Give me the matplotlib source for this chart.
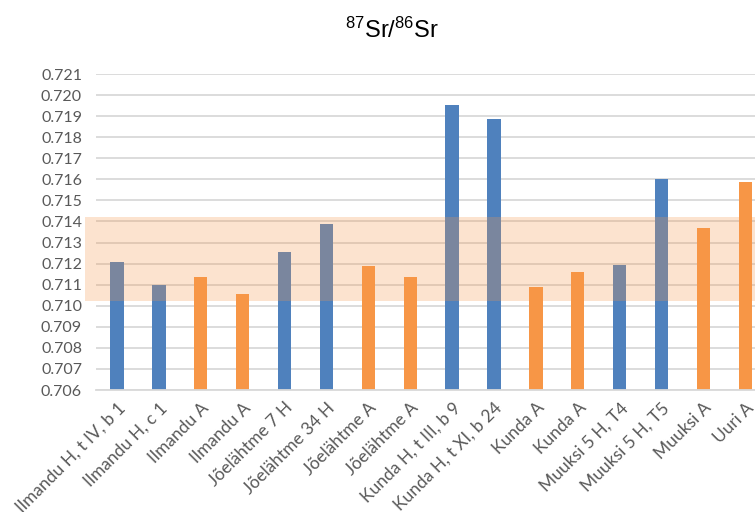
import matplotlib
matplotlib.use("Agg")
import matplotlib.pyplot as plt
from matplotlib.patches import Rectangle

categories = ["Ilmandu H, t IV, b 1", "Ilmandu H, c 1", "Ilmandu A", "Ilmandu A",
              "Jõelähtme 7 H", "Jõelähtme 34 H", "Jõelähtme A", "Jõelähtme A",
              "Kunda H, t III, b 9", "Kunda H, t XI, b 24", "Kunda A", "Kunda A",
              "Muuksi 5 H, T4", "Muuksi 5 H, T5", "Muuksi A", "Uuri A"]
values = [0.71206, 0.71099, 0.71138, 0.71057, 0.71254, 0.71388, 0.71189, 0.71138,
          0.71953, 0.71886, 0.71088, 0.71159, 0.71195, 0.71600, 0.71368, 0.71587]
groups = ["H", "H", "A", "A", "H", "H", "A", "A", "H", "H", "A", "A", "H", "H", "A", "A"]
band_low, band_high = 0.71024, 0.71422
ymin, ymax = 0.706, 0.721
yticks = [0.706 + 0.001 * i for i in range(16)]

blue = "#4F81BD"
orange = "#F79646"
colors = [blue if g == "H" else orange for g in groups]

plt.rcParams['font.family'] = ['Lato', 'DejaVu Sans']
plt.rcParams['mathtext.fontset'] = 'custom'
plt.rcParams['mathtext.rm'] = 'Liberation Sans'
plt.rcParams['mathtext.it'] = 'Liberation Sans'
fig = plt.figure(figsize=(7.55, 5.12), dpi=100)
ax = fig.add_axes([96/755, 1 - 390/512, 1 - 96/755, (390 - 74)/512])

x = list(range(len(categories)))
ax.bar(x, [v - ymin for v in values], bottom=ymin, width=0.32, color=colors, zorder=2)
ax.set_ylim(ymin, ymax)
ax.set_xlim(-0.5, 15.23)

# shaded band (extends slightly left of plot area)
ax.add_patch(Rectangle((-0.76, band_low), 17, band_high - band_low,
                       facecolor=orange, alpha=0.26, edgecolor="none",
                       zorder=3, clip_on=False))

ax.set_yticks(yticks)
ax.set_yticklabels([f"{t:.3f}" for t in yticks])
ax.yaxis.grid(True, color="#D9D9D9", linewidth=1.3, zorder=0)
ax.set_axisbelow(True)
for s in ["top", "right", "left"]:
    ax.spines[s].set_visible(False)
ax.spines["bottom"].set_color("#D9D9D9")
ax.spines["bottom"].set_linewidth(1.3)
ax.tick_params(axis="y", length=0, labelsize=11.5, labelcolor="#595959", pad=10)
ax.set_xticks(x)
ax.set_xticklabels(categories, rotation=45, ha="right", rotation_mode="anchor")
ax.tick_params(axis="x", length=0, labelsize=12.5, labelcolor="#595959", pad=7)

fig.text(392/755, 1 - 30/512, r"$^{87}$Sr/$^{86}$Sr", ha="center", va="center",
         fontsize=17, color="black", family=["Liberation Sans", "DejaVu Sans"])
fig.savefig("out.png", dpi=100)
